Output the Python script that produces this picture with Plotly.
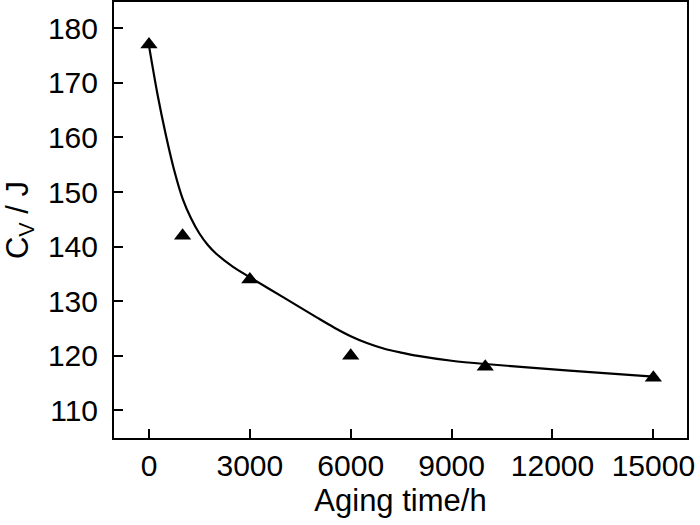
import plotly.graph_objects as go

# measured data points
aging_time = [0, 1000, 3000, 6000, 10000, 15000]
cv_values = [177, 142, 134, 120, 118, 116]

# fitted curve
fit_time = [0, 250, 500, 750, 1000, 1250, 1500, 1750, 2000, 2500, 3000, 4000, 5000, 5500,
            6000, 6500, 7000, 7500, 8000, 9000, 10000, 12500, 15000]
fit_cv = [176.8, 168.0, 160.5, 154.0, 148.8, 145.2, 142.4, 140.3, 138.7, 136.3, 134.4, 130.7, 127.0, 125.2,
          123.6, 122.3, 121.3, 120.6, 120.0, 119.1, 118.5, 117.3, 116.2]

x_ticks = [0, 3000, 6000, 9000, 12000, 15000]
y_ticks = [110, 120, 130, 140, 150, 160, 170, 180]

FONT = "Liberation Sans, Arial, sans-serif"

fig = go.Figure()
fig.add_trace(go.Scatter(x=fit_time, y=fit_cv, mode="lines",
                         line=dict(color="black", width=2.2, shape="spline", smoothing=0.8),
                         showlegend=False, hoverinfo="skip"))
fig.add_trace(go.Scatter(x=aging_time, y=cv_values, mode="markers",
                         marker=dict(symbol="triangle-up", size=15, color="black"),
                         showlegend=False))

fig.update_layout(
    width=700, height=525,
    margin=dict(l=114, r=13, t=2, b=87),
    paper_bgcolor="white", plot_bgcolor="white",
    font=dict(family=FONT, size=30, color="black"),
    xaxis=dict(range=[-1040, 16000], tickmode="array", tickvals=x_ticks,
               ticktext=[str(v) for v in x_ticks],
               ticks="inside", ticklen=9, tickwidth=2, tickcolor="black",
               showline=True, linecolor="black", linewidth=2, mirror=True,
               showgrid=False, zeroline=False, automargin=False,
               tickfont=dict(family=FONT, size=30),
               title=dict(text="Aging time/h", font=dict(family=FONT, size=31), standoff=8)),
    yaxis=dict(range=[104.95, 184.8], tickmode="array", tickvals=y_ticks,
               ticks="inside", ticklen=9, tickwidth=2, tickcolor="black",
               showline=True, linecolor="black", linewidth=2, mirror=True,
               showgrid=False, zeroline=False, automargin=False,
               ticklabelstandoff=8,
               tickfont=dict(family=FONT, size=30),
               title=dict(text="C<sub>V</sub> / J", font=dict(family=FONT, size=31), standoff=16)),
)

fig.write_html("out.html", config={"displayModeBar": False},
               post_script="document.body.style.margin='0';document.body.style.padding='0';")
